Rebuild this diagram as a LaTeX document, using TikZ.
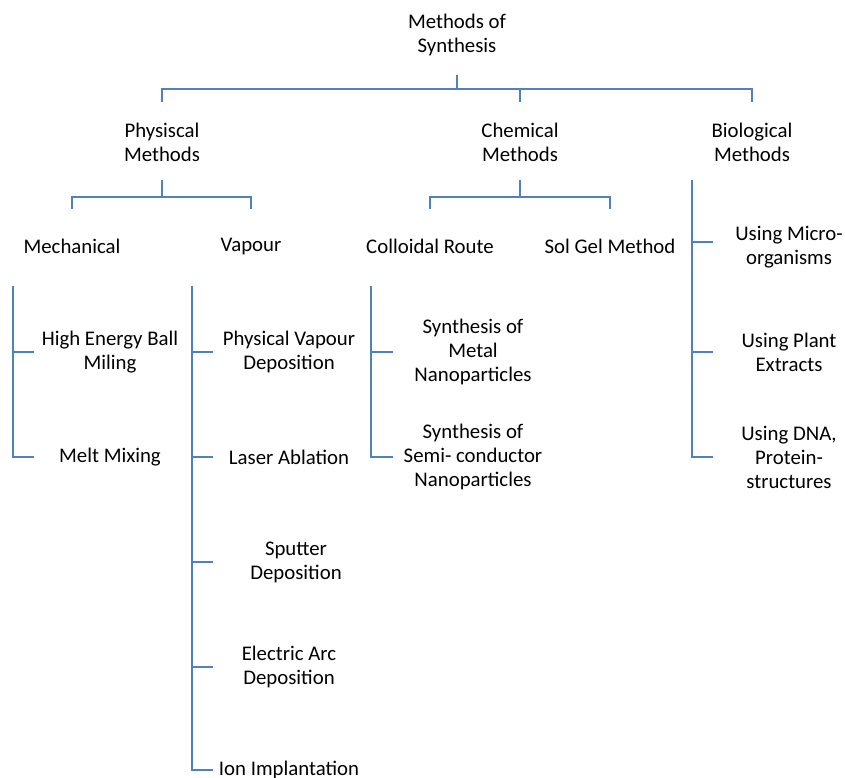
\documentclass[tikz,border=0pt]{standalone}
\usepackage{fontspec}
\setmainfont{Carlito}
\definecolor{linecol}{HTML}{4F81BD}
\begin{document}
\begin{tikzpicture}[x=1pt,y=-1pt,
  lbl/.style={align=center,inner sep=0pt,font=\fontsize{20.8}{24}\selectfont,text=black},
  conn/.style={draw=linecol,line width=2.8pt}]
\useasboundingbox (0,0) rectangle (845,778);
% text nodes
\node[lbl] (root) at (457,35) {Methods of\\Synthesis};
\node[lbl] (phys) at (162,142) {Physiscal\\Methods};
\node[lbl] (chem) at (520,142) {Chemical\\Methods};
\node[lbl] (bio) at (752,142) {Biological\\Methods};
\node[lbl] (mech) at (72,246) {Mechanical};
\node[lbl] (vap) at (251,247) {Vapour};
\node[lbl] (coll) at (430,246) {Colloidal Route};
\node[lbl] (sol) at (610,246) {Sol Gel Method};
\node[lbl] (hebm) at (110,352) {High Energy Ball\\Miling};
\node[lbl] (melt) at (110,457) {Melt Mixing};
\node[lbl] (pvd) at (289,352) {Physical Vapour\\Deposition};
\node[lbl] (laser) at (289,457) {Laser Ablation};
\node[lbl] (sput) at (296,562) {Sputter\\Deposition};
\node[lbl] (arc) at (289,667) {Electric Arc\\Deposition};
\node[lbl] (ion) at (289,770) {Ion Implantation};
\node[lbl] (metal) at (473,352) {Synthesis of\\Metal\\Nanoparticles};
\node[lbl] (semi) at (473,457) {Synthesis of\\Semi- conductor\\Nanoparticles};
\node[lbl] (micro) at (789,247) {Using Micro-\\organisms};
\node[lbl] (plant) at (789,352) {Using Plant\\Extracts};
\node[lbl] (dna) at (789,457) {Using DNA,\\Protein-\\structures};
% junction coordinates
\coordinate (rootS) at (457,75);
\coordinate (rootB) at (457,89);
\coordinate (physT) at (162,102);
\coordinate (chemT) at (520,102);
\coordinate (bioT) at (752,102);
\coordinate (physS) at (162,180);
\coordinate (physB) at (162,197);
\coordinate (mechT) at (72,209);
\coordinate (vapT) at (251,209);
\coordinate (chemS) at (520,180);
\coordinate (chemB) at (520,197);
\coordinate (collT) at (430,209);
\coordinate (solT) at (610,209);
\coordinate (mechS) at (13,286);
\coordinate (vapS) at (192,286);
\coordinate (collS) at (371,286);
\coordinate (bioS) at (692,180);
% top level
\draw[conn] (rootS) -- (rootB);
\draw[conn] (physT) |- (rootB) -| (bioT);
\draw[conn] (chemT) -- (chemT |- rootB);
% physical
\draw[conn] (physS) -- (physB);
\draw[conn] (mechT) |- (physB) -| (vapT);
% chemical
\draw[conn] (chemS) -- (chemB);
\draw[conn] (collT) |- (chemB) -| (solT);
% mechanical list
\draw[conn] (mechS) |- ([xshift=21pt]mechS |- melt);
\draw[conn] (mechS |- hebm) -- ++(21,0);
% vapour list
\draw[conn] (vapS) |- ([xshift=21pt]vapS |- ion);
\foreach \n in {pvd,laser,sput,arc} \draw[conn] (vapS |- \n) -- ++(21,0);
% colloidal list
\draw[conn] (collS) |- ([xshift=22pt]collS |- semi);
\draw[conn] (collS |- metal) -- ++(22,0);
% biological list
\draw[conn] (bioS) |- ([xshift=21pt]bioS |- dna);
\draw[conn] (bioS |- plant) -- ++(21,0);
\draw[conn] (bioS |- 0,242) -- ++(21,0);
\end{tikzpicture}
\end{document}
